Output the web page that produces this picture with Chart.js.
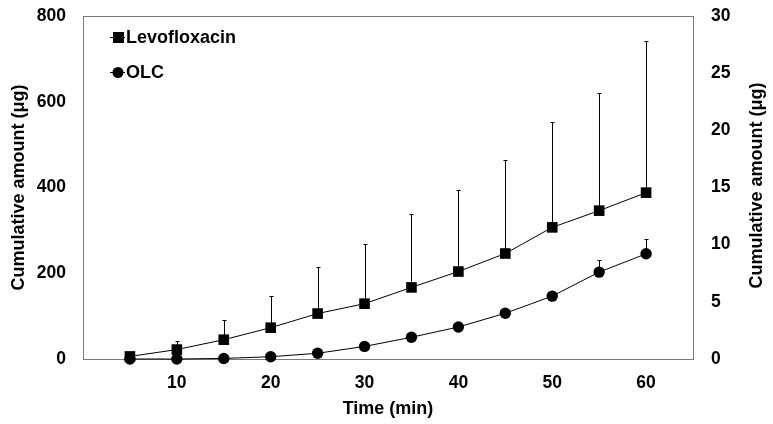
<!DOCTYPE html>
<html>
<head>
<meta charset="utf-8">
<script src="https://cdn.jsdelivr.net/npm/chart.js@4/dist/chart.umd.min.js"></script>
<style>
  html, body { margin: 0; padding: 0; background: #fff; }
  #wrap { width: 773px; height: 424px; position: relative; }
</style>
</head>
<body>
<div id="wrap"><canvas id="c" width="773" height="424"></canvas></div>
<script>
// time points (min) and cumulative amounts
const times = [5, 10, 15, 20, 25, 30, 35, 40, 45, 50, 55, 60];
const levo = [6, 22, 45, 73, 106, 129, 167, 204, 246, 307, 346, 388];
const levoErr = [0, 19, 45, 75, 109, 139, 172, 191, 219, 245, 275, 354];
const olc = [0, 0, 0.05, 0.2, 0.5, 1.1, 1.9, 2.8, 4.0, 5.5, 7.6, 9.2];
const olcErr = [0, 0, 0, 0, 0, 0, 0, 0, 0, 0, 1.1, 1.3];
const xTicks = [10, 20, 30, 40, 50, 60];
const yTitle = 'Cumulative amount (μg)';
const font = "'Liberation Sans', Arial, sans-serif";

const pts = (ys) => times.map((t, i) => ({ x: t, y: ys[i] }));

// upper-only error bars, drawn under the markers
const errorBars = {
  id: 'errorBars',
  beforeDatasetsDraw(chart) {
    const { ctx } = chart;
    const xs = chart.scales.x;
    ctx.save();
    ctx.strokeStyle = '#000';
    ctx.lineWidth = 1;
    chart.data.datasets.forEach((ds) => {
      const ys = chart.scales[ds.yAxisID];
      ds.data.forEach((p, i) => {
        const e = ds.errors[i];
        if (!e) return;
        const px = Math.round(xs.getPixelForValue(p.x)) + 0.5;
        const y0 = ys.getPixelForValue(p.y);
        const y1 = Math.round(ys.getPixelForValue(p.y + e)) + 0.5;
        ctx.beginPath();
        ctx.moveTo(px, y0); ctx.lineTo(px, y1);
        ctx.moveTo(px - 2, y1); ctx.lineTo(px + 2, y1);
        ctx.stroke();
      });
    });
    ctx.restore();
  },
};

// plot box, right-hand title (reads bottom-to-top) and legend inside the plot
const frame = {
  id: 'frame',
  beforeDatasetsDraw(chart) {
    const { ctx, chartArea: a } = chart;
    ctx.save();
    ctx.strokeStyle = '#7a7a7a';
    ctx.lineWidth = 1;
    ctx.strokeRect(Math.round(a.left) + 0.5, Math.round(a.top) + 0.5,
      Math.round(a.right - a.left), Math.round(a.bottom - a.top));
    ctx.restore();
  },
  afterDraw(chart) {
    const { ctx, chartArea: a } = chart;
    ctx.save();
    ctx.fillStyle = '#000';
    ctx.font = `bold 18px ${font}`;
    ctx.textAlign = 'center';
    ctx.textBaseline = 'middle';
    ctx.translate(a.right + 64, (a.top + a.bottom) / 2 - 2);
    ctx.rotate(-Math.PI / 2);
    ctx.fillText(yTitle, 0, 0);
    ctx.restore();

    ctx.save();
    const items = [
      { label: 'Levofloxacin', shape: 'rect', y: a.top + 21 },
      { label: 'OLC', shape: 'circle', y: a.top + 56 },
    ];
    items.forEach((it) => {
      const cx = a.left + 35;
      ctx.strokeStyle = '#000';
      ctx.lineWidth = 1;
      ctx.beginPath();
      ctx.moveTo(cx - 8, it.y + 0.5); ctx.lineTo(cx + 7, it.y + 0.5);
      ctx.stroke();
      ctx.fillStyle = '#000';
      if (it.shape === 'rect') {
        ctx.fillRect(cx - 5, it.y - 5, 11, 11);
      } else {
        ctx.beginPath(); ctx.arc(cx, it.y + 0.5, 5.5, 0, Math.PI * 2); ctx.fill();
      }
      ctx.font = `bold 18px ${font}`;
      ctx.textBaseline = 'middle';
      ctx.textAlign = 'left';
      ctx.fillText(it.label, cx + 8, it.y + 1);
    });
    ctx.restore();
  },
};

const tickFont = { family: font, size: 17.5, weight: 'bold' };
const titleFont = { family: font, size: 18, weight: 'bold' };

// fixed-width vertical axes; drop the label overhang padding so the plot spans the full height
const fixWidth = (w) => (s) => { s.width = w; s.paddingTop = 0; s.paddingBottom = 0; };

new Chart(document.getElementById('c'), {
  type: 'line',
  data: {
    datasets: [
      {
        label: 'Levofloxacin', data: pts(levo), errors: levoErr, yAxisID: 'y', order: 2, clip: false,
        borderColor: '#000', borderWidth: 1, backgroundColor: '#000',
        pointStyle: 'rect', pointRadius: 7.5, pointBackgroundColor: '#000', pointBorderWidth: 0,
      },
      {
        label: 'OLC', data: pts(olc), errors: olcErr, yAxisID: 'y1', order: 1, clip: false,
        borderColor: '#000', borderWidth: 1, backgroundColor: '#000',
        pointStyle: 'circle', pointRadius: 5.7, pointBackgroundColor: '#000', pointBorderWidth: 0,
      },
    ],
  },
  options: {
    responsive: false, animation: false,
    layout: { padding: { top: 16, left: 8, right: 0, bottom: 0 } },
    plugins: { legend: { display: false }, tooltip: { enabled: false } },
    scales: {
      x: {
        type: 'linear', min: 0, max: 65,
        afterBuildTicks: (s) => { s.ticks = xTicks.map((v) => ({ value: v })); },
        afterFit: (s) => { s.height = 65; s.paddingLeft = 0; s.paddingRight = 0; },
        grid: { display: false, drawTicks: false },
        border: { display: false },
        ticks: { color: '#000', font: tickFont, padding: 14 },
        title: { display: true, text: 'Time (min)', color: '#000', font: titleFont, padding: { top: 0 } },
      },
      y: {
        position: 'left', min: 0, max: 800,
        afterFit: fixWidth(75),
        grid: { display: false, drawTicks: false },
        border: { display: false },
        ticks: { color: '#000', font: tickFont, stepSize: 200, padding: 17 },
        title: { display: true, text: yTitle, color: '#000', font: titleFont, padding: 0 },
      },
      y1: {
        position: 'right', min: 0, max: 30,
        afterFit: fixWidth(80),
        grid: { display: false, drawTicks: false },
        border: { display: false },
        ticks: { color: '#000', font: tickFont, stepSize: 5, padding: 18 },
        title: { display: false },
      },
    },
  },
  plugins: [errorBars, frame],
});
</script>
</body>
</html>
